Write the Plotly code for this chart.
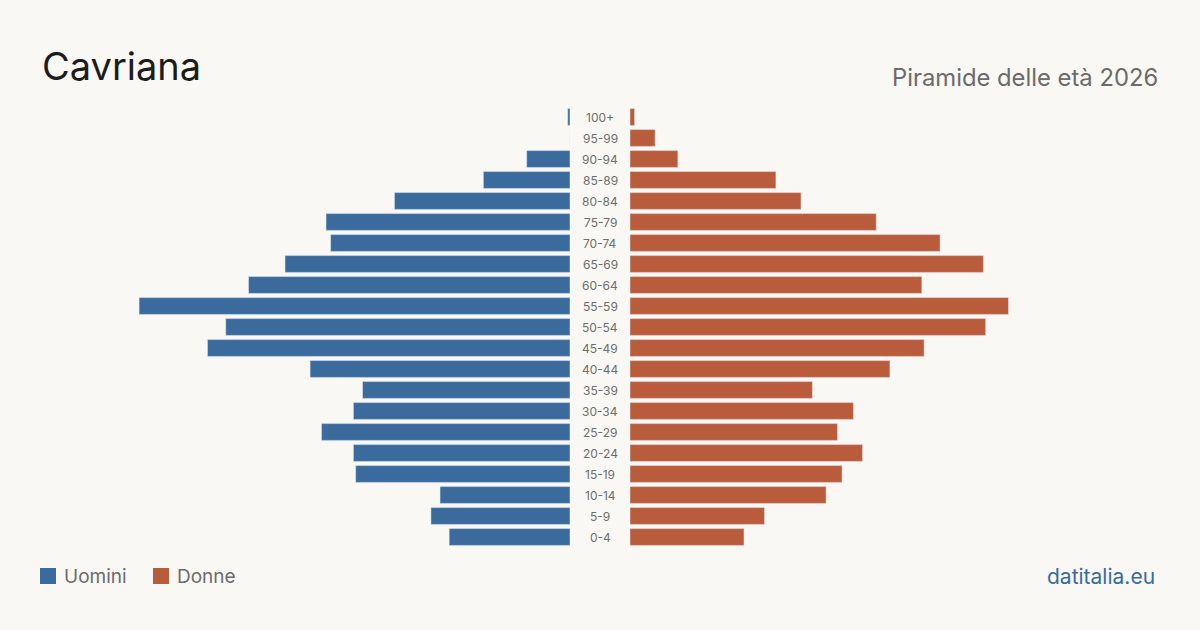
import plotly.graph_objects as go

age_groups = ["100+", "95-99", "90-94", "85-89", "80-84", "75-79", "70-74", "65-69",
              "60-64", "55-59", "50-54", "45-49", "40-44", "35-39", "30-34", "25-29",
              "20-24", "15-19", "10-14", "5-9", "0-4"]
men = [1, 0, 19, 38, 77, 107, 105, 125, 141, 189, 151, 159, 114, 91, 95, 109, 95, 94, 57, 61, 53]
women = [2, 11, 21, 64, 75, 108, 136, 155, 128, 166, 156, 129, 114, 80, 98, 91, 102, 93, 86, 59, 50]

BLUE = "#3a6b9c"
ORANGE = "#b95c3b"
BG = "#f9f8f4"
FONT = "Inter, Liberation Sans, sans-serif"

W, H = 1200, 630
fig = go.Figure()
fig.add_trace(go.Bar(y=age_groups, x=men, orientation="h", marker_color=BLUE,
                     width=0.8, xaxis="x", yaxis="y", name="Uomini", showlegend=False))
fig.add_trace(go.Bar(y=age_groups, x=women, orientation="h", marker_color=ORANGE,
                     width=0.8, xaxis="x2", yaxis="y", name="Donne", showlegend=False))

ytop = 1 - 106.5 / H
ybot = 1 - 547.5 / H
R = 570 / 2.28

fig.update_layout(
    width=W, height=H, margin=dict(l=0, r=0, t=0, b=0),
    paper_bgcolor=BG, plot_bgcolor=BG, bargap=0.2,
    font=dict(family=FONT),
    xaxis=dict(domain=[0, 570 / W], range=[R, 0], visible=False, fixedrange=True),
    xaxis2=dict(domain=[630 / W, 1], range=[0, R], visible=False, fixedrange=True),
    yaxis=dict(domain=[ybot, ytop], categoryorder="array", categoryarray=age_groups[::-1],
               range=[-0.5, len(age_groups) - 0.5], visible=False, fixedrange=True),
)

for g in age_groups:
    fig.add_annotation(x=0.5, xref="paper", y=g, yref="y", text=g, showarrow=False,
                       font=dict(size=12, color="#6e6e6e", family=FONT), xanchor="center", yanchor="middle")

fig.add_annotation(x=40 / W, y=1 - 66 / H, xref="paper", yref="paper", text="Cavriana",
                   showarrow=False, xanchor="left", yanchor="middle",
                   font=dict(size=38, color="#1c1c1c", family=FONT))
fig.add_annotation(x=1160 / W, y=1 - 77 / H, xref="paper", yref="paper", text="Piramide delle età 2026",
                   showarrow=False, xanchor="right", yanchor="middle",
                   font=dict(size=23.8, color="#6b6b6b", family=FONT))
fig.add_annotation(x=1157 / W, y=1 - 576 / H, xref="paper", yref="paper", text="datitalia.eu",
                   showarrow=False, xanchor="right", yanchor="middle",
                   font=dict(size=21, color=BLUE, family=FONT))

for x0, col, label in [(40, BLUE, "Uomini"), (153, ORANGE, "Donne")]:
    fig.add_shape(type="rect", xref="paper", yref="paper", x0=x0 / W, x1=(x0 + 16) / W,
                  y0=1 - 584 / H, y1=1 - 568 / H, fillcolor=col, line=dict(width=0))
    fig.add_annotation(x=(x0 + 22) / W, y=1 - 576 / H, xref="paper", yref="paper", text=label,
                       showarrow=False, xanchor="left", yanchor="middle",
                       font=dict(size=19, color="#6b6b6b", family=FONT))

fig.write_html("out.html")
